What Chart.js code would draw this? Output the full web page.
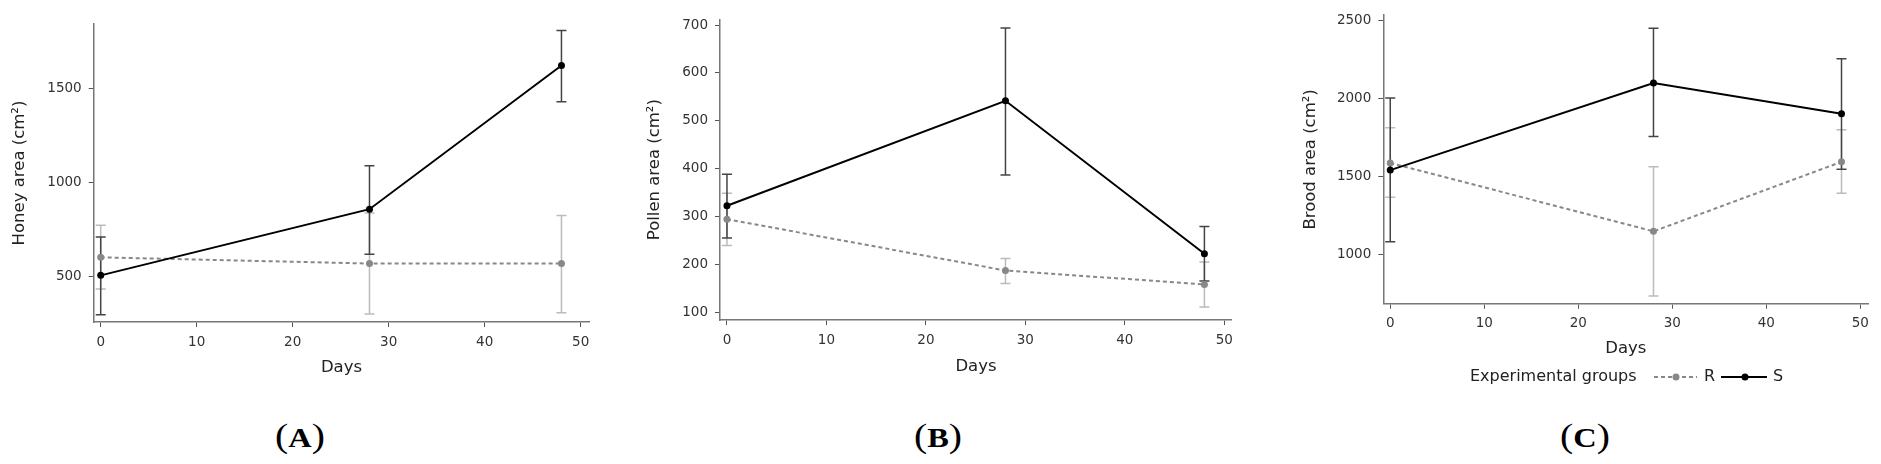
<!DOCTYPE html>
<html>
<head>
<meta charset="utf-8">
<script src="https://cdn.jsdelivr.net/npm/chart.js@4.4.4/dist/chart.umd.min.js"></script>
<style>
  html, body { margin: 0; padding: 0; background: #fff; }
  body { width: 1881px; height: 464px; position: relative; overflow: hidden; font-family: 'DejaVu Sans', sans-serif; }
  .panel { position: absolute; }
  .tag { position: absolute; font-family: 'Liberation Serif', serif; color: #000; transform: translateX(-50%) scaleX(1.2); white-space: nowrap; line-height: 1; }
  .tag .p { font-size: 33px; font-weight: normal; }
  .tag b { font-size: 27px; }
  .legend { position: absolute; left: 1470px; top: 366px; height: 22px; font-size: 16px; color: #222; white-space: nowrap; }
  .legend span, .legend svg { position: absolute; top: 0; }
</style>
</head>
<body>
<div class="panel" style="left:0;top:0;width:600px;height:400px"><canvas id="chart-honey"></canvas></div>
<div class="panel" style="left:610px;top:0;width:630px;height:400px"><canvas id="chart-pollen"></canvas></div>
<div class="panel" style="left:1250px;top:0;width:631px;height:380px"><canvas id="chart-brood"></canvas></div>

<div class="legend">
  <span style="left:0">Experimental groups</span>
  <svg style="left:183px" width="45" height="22"><line x1="1" y1="11" x2="44" y2="11" stroke="#888" stroke-width="2" stroke-dasharray="4 3"/><circle cx="23" cy="11" r="3.5" fill="#888"/></svg>
  <span style="left:234px">R</span>
  <svg style="left:250px" width="48" height="22"><line x1="1" y1="11" x2="47" y2="11" stroke="#000" stroke-width="2"/><circle cx="25" cy="11" r="3.5" fill="#000"/></svg>
  <span style="left:303px">S</span>
</div>

<div class="tag" style="left:300px;top:420px"><span class="p">(</span><b>A</b><span class="p">)</span></div>
<div class="tag" style="left:938px;top:420px"><span class="p">(</span><b>B</b><span class="p">)</span></div>
<div class="tag" style="left:1585px;top:420px"><span class="p">(</span><b>C</b><span class="p">)</span></div>

<script>
// sampling days and x-axis ticks
const days = [0, 28, 48];
const dayTicks = [0, 10, 20, 30, 40, 50];

// honey area (cm²)
const honeyTicks = [500, 1000, 1500];
const honeyR   = [601, 568, 568];
const honeyRLo = [432, 299, 306];
const honeyRHi = [772, 837, 823];
const honeyS   = [505, 857, 1621];
const honeySLo = [296, 617, 1429];
const honeySHi = [709, 1088, 1808];

// pollen area (cm²)
const pollenTicks = [100, 200, 300, 400, 500, 600, 700];
const pollenR   = [295, 188, 159];
const pollenRLo = [240, 161, 112];
const pollenRHi = [349, 213, 206];
const pollenS   = [323, 542, 223];
const pollenSLo = [256, 387, 166];
const pollenSHi = [389, 694, 280];

// brood area (cm²)
const broodTicks = [1000, 1500, 2000, 2500];
const broodR   = [1588, 1149, 1595];
const broodRLo = [1367, 734, 1393];
const broodRHi = [1813, 1563, 1800];
const broodS   = [1542, 2100, 1903];
const broodSLo = [1083, 1758, 1548];
const broodSHi = [2004, 2451, 2256];

Chart.defaults.font.family = "'DejaVu Sans', sans-serif";
Chart.defaults.color = '#333';

// vertical error bars with caps, drawn under the lines
const errorBars = {
  id: 'errorBars',
  beforeDatasetsDraw(chart) {
    const { ctx, scales: { x, y } } = chart;
    const sets = chart.data.datasets.slice().sort((a, b) => b.order - a.order);
    sets.forEach(ds => {
      ctx.save();
      ctx.strokeStyle = ds.errColor;
      ctx.lineWidth = 1.5;
      ds.data.forEach((p, i) => {
        const px = x.getPixelForValue(p.x);
        const lo = y.getPixelForValue(ds.lo[i]);
        const hi = y.getPixelForValue(ds.hi[i]);
        ctx.beginPath();
        ctx.moveTo(px, lo); ctx.lineTo(px, hi);
        ctx.moveTo(px - 5, lo); ctx.lineTo(px + 5, lo);
        ctx.moveTo(px - 5, hi); ctx.lineTo(px + 5, hi);
        ctx.stroke();
      });
      ctx.restore();
    });
  }
};

const pts = vals => days.map((d, i) => ({ x: d, y: vals[i] }));

function makeChart(id, o) {
  const tf = 16.5, th = tf * 1.2;
  return new Chart(document.getElementById(id), {
    type: 'line',
    data: {
      datasets: [
        { label: 'S', data: pts(o.s), lo: o.sLo, hi: o.sHi, errColor: '#444', order: 0,
          borderColor: '#000', backgroundColor: '#000', borderWidth: 2, pointRadius: 3.5, pointBorderWidth: 0 },
        { label: 'R', data: pts(o.r), lo: o.rLo, hi: o.rHi, errColor: '#bbb', order: 1,
          borderColor: '#888', backgroundColor: '#888', borderWidth: 2, borderDash: [4, 3], pointRadius: 3.5, pointBorderWidth: 0 },
      ],
    },
    options: {
      responsive: true, maintainAspectRatio: false, animation: false,
      layout: { autoPadding: false, padding: { left: 0, top: o.top, right: o.right, bottom: 0 } },
      plugins: { legend: { display: false }, tooltip: { enabled: false } },
      scales: {
        x: {
          type: 'linear', min: o.xMin, max: o.xMax,
          afterBuildTicks: s => { s.ticks = dayTicks.map(v => ({ value: v })); },
          afterFit: s => { s.height = o.xh; },
          grid: { drawOnChartArea: false, drawTicks: true, tickLength: 5, color: '#555' },
          border: { display: true, color: '#777', width: 1.5 },
          ticks: { color: '#333', font: { size: 13.5 }, padding: 7, maxRotation: 0, autoSkip: false, callback: v => String(v) },
          title: { display: true, text: 'Days', color: '#222', font: { size: tf, lineHeight: 1.2 }, padding: { top: 0, bottom: o.daysBottom - th / 2 } },
        },
        y: {
          min: o.yMin, max: o.yMax,
          afterBuildTicks: s => { s.ticks = o.ticks.map(v => ({ value: v })); },
          afterFit: s => { s.width = o.yw; },
          grid: { drawOnChartArea: false, drawTicks: true, tickLength: 5, color: '#555' },
          border: { display: true, color: '#777', width: 1.5 },
          ticks: { color: '#333', font: { size: 13.5 }, padding: 7, autoSkip: false, callback: v => String(v) },
          title: { display: true, text: o.title, color: '#222', font: { size: tf, lineHeight: 1.2 }, padding: { top: o.titleX - th / 2, bottom: 0 } },
        },
      },
    },
    plugins: [errorBars],
  });
}

makeChart('chart-honey', {
  title: 'Honey area (cm²)', ticks: honeyTicks,
  r: honeyR, rLo: honeyRLo, rHi: honeyRHi, s: honeyS, sLo: honeySLo, sHi: honeySHi,
  xMin: -0.73, xMax: 50.9, yMin: 257, yMax: 1842,
  top: 24, right: 10.7, yw: 93.7, xh: 78, titleX: 19.3, daysBottom: 32.3,
});

makeChart('chart-pollen', {
  title: 'Pollen area (cm²)', ticks: pollenTicks,
  r: pollenR, rLo: pollenRLo, rHi: pollenRHi, s: pollenS, sLo: pollenSLo, sHi: pollenSHi,
  xMin: -0.7, xMax: 50.77, yMin: 84.8, yMax: 711.9,
  top: 19.3, right: 7.3, yw: 110, xh: 80, titleX: 45, daysBottom: 33.3,
});

makeChart('chart-brood', {
  title: 'Brood area (cm²)', ticks: broodTicks,
  r: broodR, rLo: broodRLo, rHi: broodRHi, s: broodS, sLo: broodSLo, sHi: broodSHi,
  xMin: -0.74, xMax: 50.85, yMin: 685, yMax: 2536,
  top: 13.3, right: 12.7, yw: 133.3, xh: 76.3, titleX: 60.7, daysBottom: 31.7,
});
</script>
</body>
</html>
